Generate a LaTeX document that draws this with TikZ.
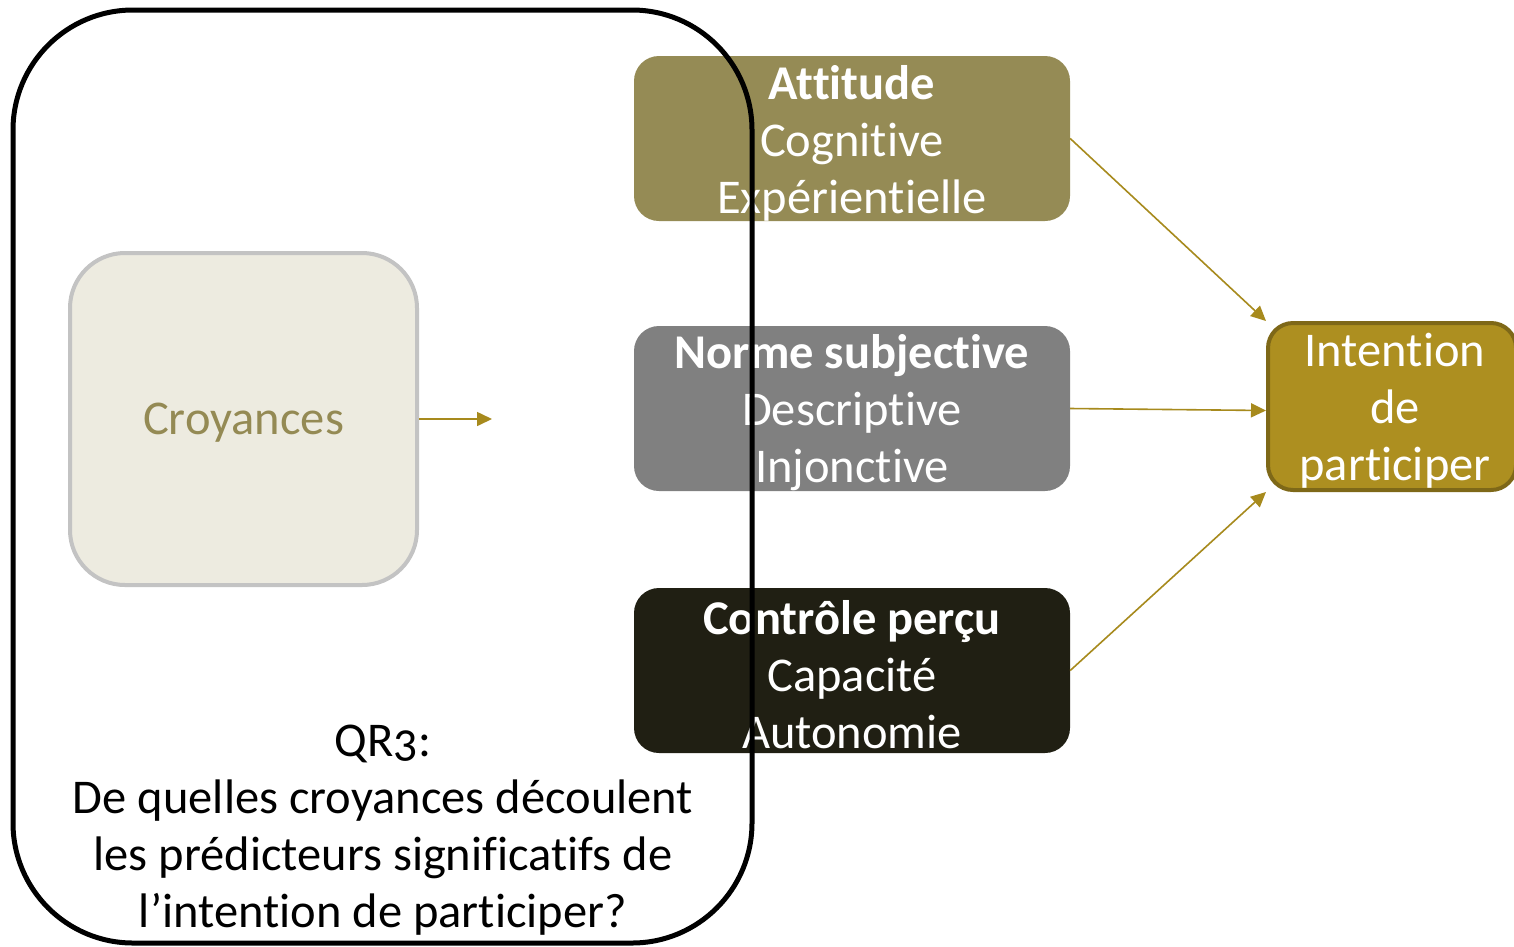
\documentclass[tikz,border=0pt]{standalone}
\usepackage{fontspec}
\setmainfont{Carlito}[Numbers=OldStyle,Ligatures=NoCommon]
\usetikzlibrary{arrows.meta}
\definecolor{attc}{HTML}{958B55}
\definecolor{normc}{HTML}{808080}
\definecolor{ctrlc}{HTML}{201F13}
\definecolor{intc}{HTML}{AD8F20}
\definecolor{intb}{HTML}{7E6818}
\definecolor{croyf}{HTML}{EDEBE0}
\definecolor{croyb}{HTML}{C3C3C3}
\definecolor{croyt}{HTML}{948A54}
\definecolor{arrc}{HTML}{A78A1D}
\tikzset{
  bigtext/.style={font=\fontsize{48.5}{57}\selectfont},
  tpbbox/.style={rectangle, rounded corners=25pt, minimum width=436pt, minimum height=165pt, inner sep=0pt, text=white, align=center, bigtext},
  lbl/.style={align=center, bigtext, inner sep=0pt},
  arr/.style={draw=arrc, line width=1.6pt, -{Triangle[length=15pt,width=14pt]}},
}
\begin{document}
\begin{tikzpicture}[x=1pt,y=-1pt]
\useasboundingbox (0,0) rectangle (1514,946);
\fill[white] (0,0) rectangle (1514,946);
\node[rectangle, rounded corners=55pt, minimum width=347pt, minimum height=332pt, fill=croyf, draw=croyb, line width=4pt] (croy) at (243.5,419) {};
\node[lbl, text=croyt] (croyl) at (243.5,423) {Croyances};
\coordinate (croyend) at (492,419);
\node[tpbbox, fill=attc] (att) at (852,138.5) {};
\node[lbl, text=white] (attl) at (852,143) {{\bfseries Attitude}\\Cognitive\\Expérientielle};
\node[tpbbox, fill=normc] (norm) at (852,408.5) {};
\node[lbl, text=white] (norml) at (852,413) {{\bfseries Norme subjective}\\Descriptive\\Injonctive};
\node[tpbbox, fill=ctrlc] (ctrl) at (852,670.5) {};
\node[lbl, text=white] (ctrll) at (852,675) {{\bfseries Contrôle perçu}\\Capacité\\Autonomie};
\node[rectangle, rounded corners=25pt, minimum width=248pt, minimum height=167pt, inner sep=0pt, fill=intc, draw=intb, line width=4pt] (int) at (1392,406.5) {};
\node[lbl, text=white] (intl) at (1395,411) {Intention\\de\\participer};
\draw[arr] (croy.east) -- (croyend);
\draw[arr] (att.east) -- (int.north west);
\draw[arr] (norm.east) -- ([yshift=-4pt]int.west);
\draw[arr] (ctrl.east) -- (int.south west);
\node[lbl, text=black] (qr) at (383,830) {QR3:\\De quelles croyances découlent\\les prédicteurs significatifs de\\l’intention de participer?};
\draw[line width=5pt, rounded corners=120pt] (13,10) rectangle (752,943);
\end{tikzpicture}
\end{document}
